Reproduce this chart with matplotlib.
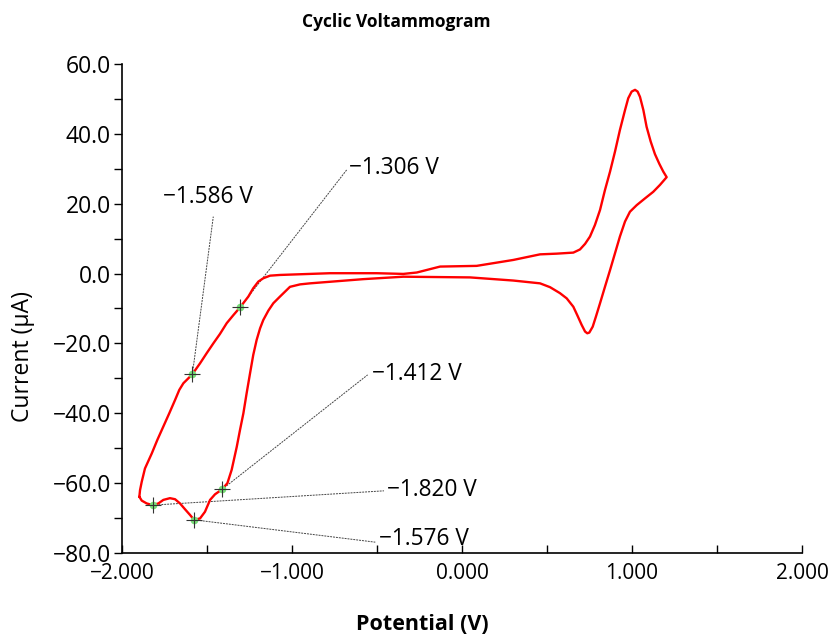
import matplotlib
matplotlib.use("Agg")
import matplotlib.pyplot as plt
from matplotlib.ticker import MultipleLocator, FuncFormatter

# ---- data (potential in V, current in uA) ----
potential = [
    -1.898, -1.894, -1.884, -1.865, -1.825, -1.792, -1.757, -1.722, -1.688, -1.663,
    -1.639, -1.610, -1.586, -1.541, -1.502, -1.463, -1.424, -1.384, -1.345, -1.306,
    -1.257, -1.228, -1.198, -1.169, -1.129, -1.071, -0.776, -0.502, -0.345, -0.266,
    -0.129, 0.086, 0.302, 0.459, 0.557, 0.655, 0.694, 0.724, 0.753, 0.782,
    0.812, 0.841, 0.871, 0.900, 0.929, 0.959, 0.978, 0.998, 1.018, 1.033,
    1.047, 1.067, 1.086, 1.110, 1.135, 1.161, 1.184, 1.204,
    1.165, 1.125, 1.076, 1.028, 0.988, 0.959, 0.929, 0.900, 0.871, 0.841,
    0.812, 0.788, 0.769, 0.749, 0.737, 0.724, 0.704, 0.678, 0.655, 0.616,
    0.576, 0.518, 0.459, 0.302, 0.047, -0.345, -0.581, -0.894, -0.953, -1.012,
    -1.071, -1.110, -1.139, -1.169, -1.188, -1.208, -1.228, -1.247, -1.267, -1.286,
    -1.306, -1.325, -1.355, -1.380, -1.412, -1.453, -1.482, -1.512, -1.541, -1.576,
    -1.600, -1.629, -1.659, -1.688, -1.718, -1.757, -1.786, -1.820, -1.855, -1.884,
    -1.898,
]
current = [
    -63.9, -62.0, -59.6, -55.8, -51.5, -47.6, -43.8, -40.0, -36.2, -33.3,
    -31.4, -30.0, -28.8, -25.7, -22.8, -20.0, -17.3, -14.2, -11.9, -9.7,
    -6.6, -4.2, -2.3, -1.35, -0.6, -0.4, 0.1, 0.1, -0.1, 0.3,
    2.0, 2.2, 3.9, 5.5, 5.7, 6.0, 6.9, 8.5, 10.6, 13.9,
    18.2, 23.9, 29.2, 34.9, 41.1, 46.8, 50.2, 52.1, 52.6, 52.1,
    50.6, 46.8, 42.0, 37.8, 34.2, 31.4, 29.2, 27.6,
    25.4, 23.4, 21.5, 19.6, 17.7, 14.9, 10.6, 5.8, 1.0, -3.8,
    -8.5, -12.3, -15.2, -16.9, -17.1, -16.6, -14.7, -11.9, -9.5, -7.1,
    -5.6, -3.9, -2.8, -2.0, -1.1, -0.9, -1.6, -2.8, -3.1, -3.8,
    -6.6, -8.5, -10.6, -13.3, -15.7, -19.0, -23.3, -28.6, -34.3, -40.0,
    -44.8, -49.6, -56.2, -60.0, -61.8, -63.2, -64.8, -68.2, -70.1, -70.5,
    -69.1, -67.5, -65.8, -64.6, -64.3, -64.8, -65.8, -66.3, -65.8, -65.0,
    -63.9,
]

marker_x = [-1.306, -1.586, -1.412, -1.820, -1.576]
marker_y = [-9.7, -28.8, -61.8, -66.3, -70.5]
marker_labels = ["\u22121.306 V", "\u22121.586 V", "\u22121.412 V", "\u22121.820 V", "\u22121.576 V"]
label_x = [-0.665, -1.759, -0.529, -0.440, -0.487]
label_y = [30.2, 21.9, -28.7, -62.0, -76.0]
leader_x = [-0.678, -1.463, -0.555, -0.459, -0.510]
leader_y = [29.7, 16.3, -29.0, -62.2, -76.9]

plt.rcParams['font.family'] = ['Open Sans', 'DejaVu Sans']

fig = plt.figure(figsize=(8.34, 6.36), dpi=100)
ax = fig.add_axes([0.1463, 0.1305, 0.8153, 0.7689])

ax.plot(potential, current, color='#ff0000', lw=1.7, solid_joinstyle='round',
        solid_capstyle='round', zorder=3)

for mx, my, lx, ly, tx, ty, lab in zip(marker_x, marker_y, leader_x, leader_y,
                                        label_x, label_y, marker_labels):
    ax.plot([mx, lx], [my, ly], color='#444444', lw=0.7, ls=(0, (2, 1)), zorder=2)
    ax.text(tx, ty, lab, fontsize=16.3, ha='left', va='center', color='black', zorder=5)

ax.plot(marker_x, marker_y, ls='none', marker='o', ms=5.5, mfc='#77dd77', mec='none', zorder=4)
ax.plot(marker_x, marker_y, ls='none', marker='+', ms=12, mew=0.8, color='#333333', zorder=5)

ax.set_xlim(-2, 2)
ax.set_ylim(-80, 60)
ax.xaxis.set_major_locator(MultipleLocator(1.0))
ax.xaxis.set_minor_locator(MultipleLocator(0.5))
ax.yaxis.set_major_locator(MultipleLocator(20))
ax.yaxis.set_minor_locator(MultipleLocator(10))
ax.xaxis.set_major_formatter(FuncFormatter(lambda v, p: f"{v:.3f}".replace('-', '\u2212')))
ax.yaxis.set_major_formatter(FuncFormatter(lambda v, p: f"{v:.1f}".replace('-', '\u2212')))

for s in ['top', 'right']:
    ax.spines[s].set_visible(False)
for s in ['left', 'bottom']:
    ax.spines[s].set_linewidth(1.2)

ax.tick_params(axis='x', which='both', direction='in', length=6, width=1, labelsize=15, pad=7)
ax.tick_params(axis='y', which='both', direction='out', length=6, width=1, labelsize=16.5, pad=2)

fig.text(422 / 834, 1 - 625 / 636, 'Potential (V)', fontsize=15.5, fontweight='bold',
         ha='center', va='center')
fig.text(23 / 834, 1 - 357 / 636, 'Current (\u03bcA)', fontsize=16.5, rotation=90,
         ha='center', va='center')
fig.text(0.475, 0.965, 'Cyclic Voltammogram', fontsize=12.5, fontweight='bold',
         ha='center', va='center')

fig.savefig('out.png', dpi=100)
